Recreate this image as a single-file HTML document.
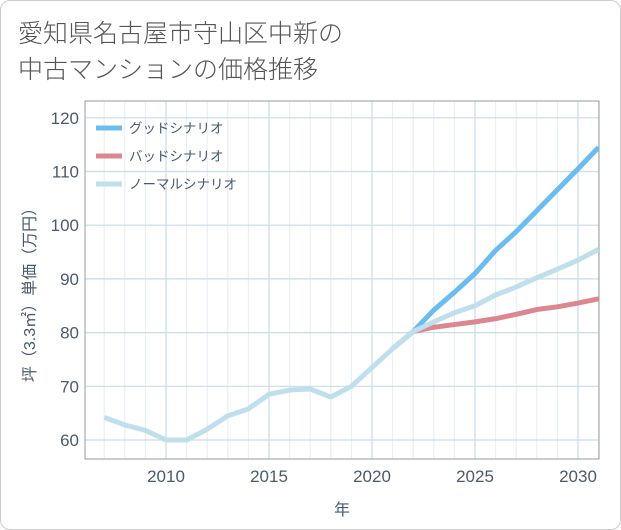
<!DOCTYPE html>
<html><head><meta charset="utf-8"><style>
body{margin:0;background:#fff;font-family:"Liberation Sans","Noto Sans CJK JP",sans-serif}
#wrap{position:relative;width:619px;height:528px;border:1px solid #ccc;border-radius:10px;overflow:hidden}
#title{position:absolute;left:17px;top:13px;font-size:25px;line-height:36px;color:#555;font-family:"Noto Sans CJK JP",sans-serif;font-weight:300}
svg{position:absolute;left:0;top:0}
text{font-family:"Liberation Sans","Noto Sans CJK JP",sans-serif}
</style></head><body>
<div id="wrap">
<div id="title">愛知県名古屋市守山区中新の<br>中古マンションの価格推移</div>
<svg id="c" width="621" height="530"></svg>
</div>
<script>
const years=[2007,2008,2009,2010,2011,2012,2013,2014,2015,2016,2017,2018,2019,2020,2021,2022,2023,2024,2025,2026,2027,2028,2029,2030,2031];
const normalVals=[64.2,62.8,61.8,60,60,62,64.5,65.8,68.5,69.3,69.5,68,70,73.5,77,80.2,82,83.7,85,87,88.5,90.2,91.8,93.5,95.5];
const goodYears=[2022,2023,2024,2025,2026,2027,2028,2029,2030,2031];
const goodVals=[80.2,84.2,87.5,91,95.3,98.8,102.7,106.6,110.5,114.5];
const badYears=[2021,2022,2023,2024,2025,2026,2027,2028,2029,2030,2031];
const badVals=[77,80.2,81,81.5,82,82.6,83.4,84.3,84.8,85.5,86.3];
const xTicks=[2010,2015,2020,2025,2030];
const yTicks=[60,70,80,90,100,110,120];
const L=84,R=598,T=100,B=458;
const X=y=>165+(y-2010)*20.6;
const Y=v=>439-(v-60)*5.37;
const svg=document.getElementById('c');const NS='http://www.w3.org/2000/svg';
function el(t,a,p){const e=document.createElementNS(NS,t);for(const k in a)e.setAttribute(k,a[k]);(p||svg).appendChild(e);return e;}
for(let yr=2007;yr<=2031;yr++){const g=el('line',{x1:X(yr),x2:X(yr),y1:T,y2:B,stroke:'#e3eef6','stroke-width':1});

}
xTicks.forEach(t=>{const g=el('line',{x1:X(t),x2:X(t),y1:T,y2:B,stroke:'#c9dceb','stroke-width':1.2});


const tx=el('text',{x:X(t),y:481,'text-anchor':'middle','font-size':17,fill:'#4a5a6e'});tx.textContent=t;

});
yTicks.forEach(t=>{const g=el('line',{x1:L,x2:R,y1:Y(t),y2:Y(t),stroke:'#c9dceb','stroke-width':1.2});


const tx=el('text',{x:78,y:Y(t)+6,'text-anchor':'end','font-size':17,fill:'#4a5a6e'});tx.textContent=t;

});
const fr=el('rect',{x:L,y:T,width:R-L,height:B-T,fill:'none',stroke:'#999','stroke-width':1});


const cp=el('clipPath',{id:'cp'});el('rect',{x:L,y:T,width:R-L,height:B-T},cp);
function line(xs,vs,col,name){const p=el('polyline',{points:xs.map((x,i)=>X(x)+','+Y(vs[i])).join(' '),fill:'none',stroke:col,'stroke-width':5,'stroke-linejoin':'round','clip-path':'url(#cp)'});

}
line(badYears,badVals,'#dc8790','bad-scenario-line');
line(goodYears,goodVals,'#6bbdf0','good-scenario-line');
line(years,normalVals,'#bfdfec','normal-scenario-line');
const leg=[['グッドシナリオ','#6bbdf0',127],['バッドシナリオ','#dc8790',155],['ノーマルシナリオ','#bfdfec',183]];
leg.forEach(l=>{const g=el('g',{});


el('line',{x1:95,x2:121,y1:l[2],y2:l[2],stroke:l[1],'stroke-width':5},g);
const t=el('text',{x:128,y:l[2]+5,'font-size':13.5,fill:'#4a5a6e'},g);t.textContent=l[0];});
const xt=el('text',{x:341,y:514,'text-anchor':'middle','font-size':16,fill:'#4a5a6e'});xt.textContent='年';


const yt=el('text',{x:0,y:0,'text-anchor':'middle','font-size':16,fill:'#4a5a6e',transform:'translate(34,290) rotate(-90)'});yt.textContent='坪（3.3㎡）単価（万円）';


</script>
</body></html>
